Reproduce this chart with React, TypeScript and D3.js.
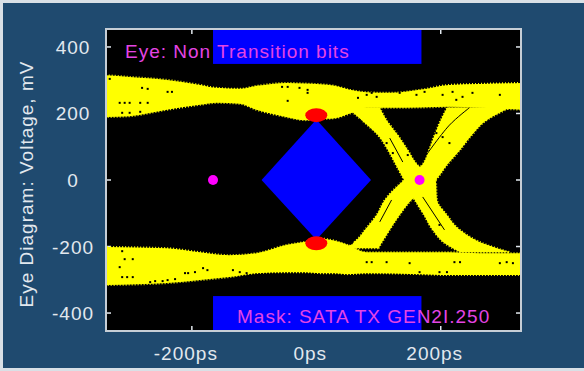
import * as d3 from "d3";

// eye levels: [time ps, top mV, bottom mV]
const upperBand: [number, number, number][] = [
  [-345, 316, 189], [-300, 310, 192], [-240, 301, 211], [-187, 286, 226],
  [-160, 277, 232], [-123, 274, 229], [-96, 283, 211], [-47, 292, 189],
  [-18, 290, 180], [6, 288, 183], [30, 283, 186], [54, 271, 200],
  [80, 264, 217], [120, 262, 217], [166, 271, 218], [214, 286, 220],
  [263, 289, 217], [335, 292, 211],
];
const lowerBand: [number, number, number][] = [
  [-345, -201, -316], [-240, -205, -310], [-187, -217, -301], [-140, -226, -292],
  [-96, -220, -280], [-47, -195, -277], [-18, -186, -277], [6, -176, -280],
  [30, -183, -280], [50, -195, -283], [80, -217, -280], [166, -217, -283],
  [214, -217, -286], [263, -220, -286], [335, -220, -286],
];
// transitions: [mV, left ps, right ps]
const fallingEdge: [number, number, number][] = [
  [217, 50, 102], [180, 73, 113], [135, 99, 131], [90, 115, 147], [45, 128, 163],
  [0, 141, 192], [-60, 158, 194], [-105, 173, 210], [-150, 187, 231],
  [-195, 210, 274], [-217, 231, 311],
];
const risingEdge: [number, number, number][] = [
  [-205, 48, 100], [-180, 65, 108], [-150, 78, 118], [-105, 97, 134], [-60, 110, 153],
  [0, 141, 192], [45, 170, 210], [90, 181, 231], [135, 190, 250],
  [180, 200, 274], [217, 210, 311],
];
// thin gaps between trace bundles inside the crossing arms
const traceGaps: [number, number][][] = [
  [[171, 60], [214, 165], [246, 217]],
  [[118, 126], [139, 54]],
  [[121, -60], [102, -126]],
  [[171, -51], [206, -150]],
];
// isolated missing samples inside the yellow bands
const speckles: [number, number][] = [
  [-332, 304], [-280, 277], [-271, 274], [-239, 265], [-232, 265], [-316, 232],
  [-308, 232], [-300, 232], [-283, 232], [-271, 232], [-312, 202], [-300, 202],
  [-283, 205], [-55, 280], [-46, 280], [-27, 277], [-14, 271], [-14, 262],
  [-46, 238], [67, 247], [81, 256], [89, 262], [97, 250], [134, 262], [161, 256],
  [174, 265], [203, 256], [219, 265], [235, 250], [251, 262], [295, 256], [70, 180],
  [225, 241], [-312, -214], [-308, -238], [-295, -238], [-316, -262], [-312, -292],
  [-304, -292], [-295, -292], [-267, -307], [-259, -304], [-247, -304], [-239, -301],
  [-227, -298], [-211, -280], [-206, -280], [-195, -277], [-182, -265], [-175, -271],
  [-134, -271], [-123, -277], [-112, -280], [81, -247], [89, -247], [113, -247],
  [150, -250], [166, -277], [198, -277], [210, -277], [222, -247], [231, -247],
  [295, -250], [306, -247], [316, -250], [57, -190], [107, -202], [198, -135],
  [113, 111], [123, 81], [147, 75], [203, 129], [214, 111], [193, 141],
];
const maskPoly: [number, number][] = [[-88, 0], [0, 182], [88, 0], [0, -180]];
const maskHits: [number, number][] = [[0, 195], [0, -190]];
const crossings: [number, number][] = [[-166, 0], [166, 0]];

const xTicks = [-200, 0, 200];
const xTickLabels = ["-200ps", "0ps", "200ps"];
const yTicks = [400, 200, 0, -200, -400];
const yTickLabels = ["400", "200", "0", "-200", "-400"];

const titleLabel = "Eye: Non Transition bits";
const maskLabel = "Mask: SATA TX GEN2I.250";
const yTitle = "Eye Diagram: Voltage, mV";
const labelSpan: [number, number] = [-166, 169];
const labelHeight = 105;

export default function App() {
  const width = 584;
  const height = 371;
  const plot = { left: 106, right: 521, top: 29, bottom: 331 };

  const x = d3.scaleLinear().domain([-338, 329]).range([plot.left, plot.right]);
  const y = d3.scaleLinear().domain([454, -454]).range([plot.top, plot.bottom]);

  const band = d3
    .area<[number, number, number]>()
    .x((d) => x(d[0]))
    .y0((d) => y(d[1]))
    .y1((d) => y(d[2]))
    .curve(d3.curveMonotoneX);

  const edge = d3
    .area<[number, number, number]>()
    .y((d) => y(d[0]))
    .x0((d) => x(d[1]))
    .x1((d) => x(d[2]))
    .curve(d3.curveMonotoneY);

  const gapLine = d3
    .line<[number, number]>()
    .x((d) => x(d[0]))
    .y((d) => y(d[1]))
    .curve(d3.curveCatmullRom);

  const yDomain = y.domain();
  const font = "'Liberation Sans', Arial, sans-serif";
  const axisColor = "#e2e8ee";
  const textPink = "#e444e4";

  return (
    <svg width={width} height={height} style={{ position: "absolute", left: 0, top: 0 }}>
      <rect width={width} height={height} fill="#d9e0e6" />
      <rect x={3} y={3} width={width - 3} height={height - 6} fill="#1f4a6f" />

      <defs>
        <clipPath id="plotClip">
          <rect x={plot.left} y={plot.top} width={plot.right - plot.left} height={plot.bottom - plot.top} />
        </clipPath>
      </defs>

      <rect x={plot.left} y={plot.top} width={plot.right - plot.left} height={plot.bottom - plot.top} fill="#000" />

      {/* inward ticks */}
      <g stroke={axisColor} strokeWidth={1.5}>
        {xTicks.map((t) => (
          <g key={"xt" + t}>
            <line x1={x(t)} x2={x(t)} y1={plot.top} y2={plot.top + 5} />
            <line x1={x(t)} x2={x(t)} y1={plot.bottom} y2={plot.bottom - 5} />
          </g>
        ))}
        {yTicks.map((t) => (
          <g key={"yt" + t}>
            <line x1={plot.left} x2={plot.left + 5} y1={y(t)} y2={y(t)} />
            <line x1={plot.right} x2={plot.right - 5} y1={y(t)} y2={y(t)} />
          </g>
        ))}
      </g>

      <g clipPath="url(#plotClip)">
        <rect
          x={x(labelSpan[0])}
          y={y(yDomain[0])}
          width={x(labelSpan[1]) - x(labelSpan[0])}
          height={y(yDomain[0] - labelHeight) - y(yDomain[0])}
          fill="#0000ff"
        />
        <rect
          x={x(labelSpan[0])}
          y={y(yDomain[1] + labelHeight)}
          width={x(labelSpan[1]) - x(labelSpan[0])}
          height={y(yDomain[1]) - y(yDomain[1] + labelHeight)}
          fill="#0000ff"
        />

        <g fill="#ffff00" stroke="#ffff00" strokeWidth={2} strokeDasharray="1,2">
          <path d={band(upperBand) ?? ""} />
          <path d={band(lowerBand) ?? ""} />
          <path d={edge(fallingEdge) ?? ""} />
          <path d={edge(risingEdge) ?? ""} />
        </g>

        <g fill="none" stroke="#000" strokeWidth={1}>
          {traceGaps.map((g, i) => (
            <path key={"g" + i} d={gapLine(g) ?? ""} />
          ))}
        </g>
        <g fill="#000">
          {speckles.map((p, i) => (
            <rect key={"s" + i} x={x(p[0]) - 1} y={y(p[1]) - 1} width={2} height={2} />
          ))}
        </g>

        <polygon points={maskPoly.map((p) => `${x(p[0])},${y(p[1])}`).join(" ")} fill="#0000ff" />

        {maskHits.map((p, i) => (
          <ellipse key={"h" + i} cx={x(p[0])} cy={y(p[1])} rx={11} ry={7} fill="#ff0000" />
        ))}
        {crossings.map((p, i) => (
          <circle key={"c" + i} cx={x(p[0])} cy={y(p[1])} r={5} fill="#ff00ff" />
        ))}
      </g>

      <rect
        x={plot.left}
        y={plot.top}
        width={plot.right - plot.left}
        height={plot.bottom - plot.top}
        fill="none"
        stroke="#c6ced6"
        strokeWidth={2}
      />

      <g fontFamily={font} fontSize={19} letterSpacing={1} fill={textPink}>
        <text x={125} y={58}>{titleLabel}</text>
        <text x={237} y={323}>{maskLabel}</text>
      </g>

      <g fontFamily={font} fontSize={19} letterSpacing={1} fill={axisColor}>
        {xTicks.map((t, i) => (
          <text key={"xl" + t} x={x(t) - 6} y={360} textAnchor="middle">
            {xTickLabels[i]}
          </text>
        ))}
        {yTicks.map((t, i) => (
          <text key={"yl" + t} x={73} y={y(t) + 7} textAnchor="middle">
            {yTickLabels[i]}
          </text>
        ))}
        <text transform={`translate(33,${(plot.top + plot.bottom) / 2 + 4}) rotate(-90)`} textAnchor="middle">
          {yTitle}
        </text>
      </g>
    </svg>
  );
}
